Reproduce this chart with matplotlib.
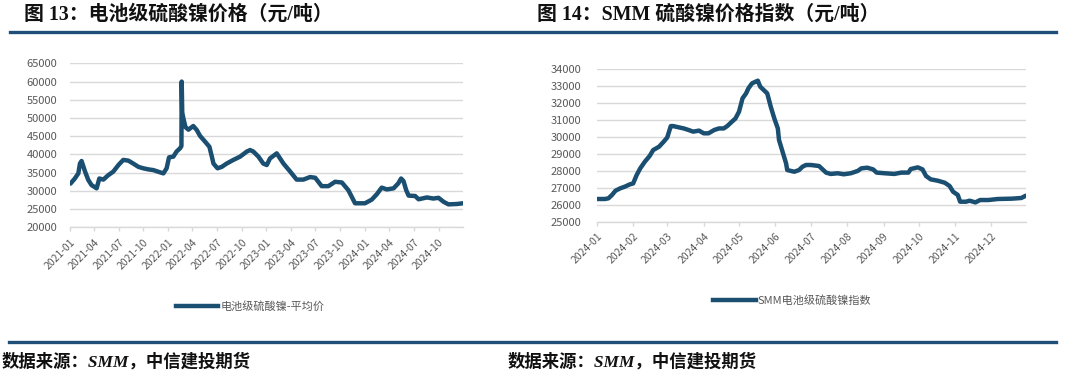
import matplotlib
matplotlib.use('Agg')
import matplotlib.pyplot as plt
import matplotlib.dates as mdates
import pandas as pd
from matplotlib.lines import Line2D

plt.rcParams['font.family'] = ['Noto Sans CJK SC', 'DejaVu Sans']

NAVY = '#1b4f72'
RULE = '#1f4e79'
GRID = '#d9d9d9'
LABEL = '#595959'

# 图13: 电池级硫酸镍-平均价 (元/吨)
left_dates = [
    '2021-01-03', '2021-01-19', '2021-02-01', '2021-02-07', '2021-02-13', '2021-02-26',
    '2021-03-10', '2021-03-22', '2021-04-10', '2021-04-20', '2021-05-05', '2021-05-23',
    '2021-06-11', '2021-06-30', '2021-07-18', '2021-08-06', '2021-08-24', '2021-09-12',
    '2021-09-30', '2021-10-19', '2021-11-07', '2021-12-01', '2021-12-14', '2021-12-26',
    '2022-01-04', '2022-01-20', '2022-02-01', '2022-02-14', '2022-02-19', '2022-02-20',
    '2022-02-22', '2022-02-26', '2022-03-06', '2022-03-17', '2022-04-04', '2022-04-17',
    '2022-04-29', '2022-05-18', '2022-06-03', '2022-06-12', '2022-06-18', '2022-07-03',
    '2022-07-19', '2022-08-06', '2022-08-31', '2022-09-25', '2022-10-20', '2022-11-01',
    '2022-11-13', '2022-12-02', '2022-12-20', '2023-01-02', '2023-01-14', '2023-02-08',
    '2023-03-05', '2023-03-30', '2023-04-23', '2023-05-18', '2023-06-12', '2023-07-01',
    '2023-07-25', '2023-08-19', '2023-09-13', '2023-10-08', '2023-11-01', '2023-11-26',
    '2024-01-02', '2024-01-27', '2024-02-15', '2024-03-04', '2024-03-23', '2024-04-17',
    '2024-05-05', '2024-05-15', '2024-05-24', '2024-06-03', '2024-06-12', '2024-07-06',
    '2024-07-19', '2024-08-19', '2024-09-12', '2024-10-01', '2024-10-20', '2024-11-07',
    '2024-12-08', '2024-12-31',
]
left_values = [
    32000, 33400, 34800, 37500, 38200, 35300,
    33000, 31600, 30700, 33400, 33100, 34300,
    35300, 37100, 38500, 38300, 37500, 36600,
    36200, 35900, 35700, 35100, 34800, 36200,
    39200, 39400, 40800, 41700, 42300, 60000,
    51500, 50000, 47500, 46800, 47800, 46700,
    45100, 43500, 42100, 39400, 37500, 36200,
    36600, 37500, 38500, 39400, 40800, 41200,
    40800, 39400, 37500, 37100, 38900, 40300,
    37500, 35300, 33100, 33100, 33800, 33600,
    31300, 31300, 32500, 32300, 30200, 26600,
    26600, 27600, 29100, 30900, 30400, 30700,
    32100, 33400, 32700, 30200, 28700, 28600,
    27700, 28200, 27900, 28100, 27000, 26300,
    26400, 26600,
]

# 图14: SMM电池级硫酸镍指数 (元/吨), 2024
right_dates = [
    '2024-01-01', '2024-01-08', '2024-01-11', '2024-01-14', '2024-01-17', '2024-01-21',
    '2024-01-25', '2024-01-29', '2024-02-01', '2024-02-04', '2024-02-07', '2024-02-11',
    '2024-02-15', '2024-02-18', '2024-02-23', '2024-02-27', '2024-03-01', '2024-03-04',
    '2024-03-06', '2024-03-11', '2024-03-15', '2024-03-19', '2024-03-23', '2024-03-28',
    '2024-04-01', '2024-04-05', '2024-04-10', '2024-04-14', '2024-04-18', '2024-04-21',
    '2024-04-25', '2024-04-28', '2024-05-01', '2024-05-04', '2024-05-07', '2024-05-09',
    '2024-05-12', '2024-05-15', '2024-05-17', '2024-05-19', '2024-05-22', '2024-05-25',
    '2024-05-28', '2024-05-31', '2024-06-03', '2024-06-04', '2024-06-07', '2024-06-10',
    '2024-06-11', '2024-06-17', '2024-06-21', '2024-06-24', '2024-06-27', '2024-07-01',
    '2024-07-08', '2024-07-14', '2024-07-18', '2024-07-24', '2024-07-29', '2024-08-04',
    '2024-08-10', '2024-08-13', '2024-08-18', '2024-08-23', '2024-08-26', '2024-09-02',
    '2024-09-10', '2024-09-16', '2024-09-22', '2024-09-24', '2024-09-30', '2024-10-04',
    '2024-10-07', '2024-10-11', '2024-10-17', '2024-10-23', '2024-10-27', '2024-10-30',
    '2024-11-03', '2024-11-05', '2024-11-10', '2024-11-13', '2024-11-18', '2024-11-22',
    '2024-11-29', '2024-12-07', '2024-12-19', '2024-12-27', '2024-12-31',
]
right_values = [
    26340, 26340, 26380, 26580, 26830, 26970,
    27070, 27200, 27260, 27760, 28150, 28550,
    28880, 29230, 29430, 29730, 29980, 30650,
    30650, 30570, 30510, 30420, 30320, 30380,
    30220, 30220, 30420, 30510, 30510, 30650,
    30910, 31100, 31500, 32290, 32580, 32880,
    33170, 33270, 33330, 32980, 32780, 32580,
    31790, 31100, 30510, 29830, 29140, 28450,
    28050, 27950, 28050, 28250, 28350, 28350,
    28290, 27900, 27820, 27860, 27800, 27860,
    28000, 28150, 28190, 28090, 27900, 27860,
    27820, 27900, 27900, 28110, 28210, 28090,
    27700, 27500, 27420, 27300, 27110, 26770,
    26580, 26180, 26180, 26240, 26140, 26280,
    26280, 26340, 26360, 26400, 26540,
]

left_yticks = list(range(20000, 65001, 5000))
right_yticks = list(range(25000, 34001, 1000))


def style_axis(ax, yticks, xlim, locator, ypad):
    ax.set_ylim(yticks[0], yticks[-1])
    ax.set_yticks(yticks)
    ax.set_xlim(pd.Timestamp(xlim[0]), pd.Timestamp(xlim[1]))
    ax.grid(axis='y', color=GRID, lw=1.0)
    ax.set_axisbelow(True)
    for s in ('top', 'right', 'left'):
        ax.spines[s].set_visible(False)
    ax.spines['bottom'].set_color(GRID)
    ax.spines['bottom'].set_linewidth(1.0)
    ax.xaxis.set_major_locator(locator)
    ax.xaxis.set_major_formatter(mdates.DateFormatter('%Y-%m'))
    ax.tick_params(axis='y', length=0, labelsize=8, labelcolor=LABEL, pad=ypad)
    ax.tick_params(axis='x', length=3, width=1, color=GRID, labelsize=7.5,
                   labelcolor=LABEL, pad=4, labelrotation=45)
    plt.setp(ax.get_xticklabels(), ha='right', va='top', rotation_mode='anchor')


fig = plt.figure(figsize=(10.8, 3.77), dpi=100)

ax1 = fig.add_axes([0.0648, 0.397, 0.3639, 0.435])
ax1.plot(pd.to_datetime(left_dates), left_values, color=NAVY, lw=3.2,
         solid_joinstyle='round', solid_capstyle='round')
style_axis(ax1, left_yticks, ('2021-01-01', '2024-12-31'),
           mdates.MonthLocator(bymonth=[1, 4, 7, 10]), 9)

ax2 = fig.add_axes([0.5525, 0.412, 0.3975, 0.404])
ax2.plot(pd.to_datetime(right_dates), right_values, color=NAVY, lw=3.2,
         solid_joinstyle='round', solid_capstyle='round')
style_axis(ax2, right_yticks, ('2024-01-01', '2024-12-31'),
           mdates.MonthLocator(), 11)

# legends
h = [Line2D([], [], color=NAVY, lw=3.2)]
fig.legend(h, ['电池级硫酸镍-平均价'], loc='center', bbox_to_anchor=(0.2315, 0.186),
           frameon=False, fontsize=8, labelcolor=LABEL, handlelength=3.8,
           handletextpad=0.2)
fig.legend(h, ['SMM电池级硫酸镍指数'], loc='center', bbox_to_anchor=(0.7338, 0.202),
           frameon=False, fontsize=8, labelcolor=LABEL, handlelength=3.8,
           handletextpad=0.2)

# titles
title_font = dict(family=['Liberation Serif', 'Noto Sans CJK SC'], weight='bold',
                  size=14.3, color='#111111', va='center', ha='left')
fig.text(24 / 1080, 1 - 15 / 377, '图 13：电池级硫酸镍价格（元/吨）', **title_font)
fig.text(537 / 1080, 1 - 15 / 377, '图 14：SMM 硫酸镍价格指数（元/吨）', **title_font)

# rules
fig.add_artist(Line2D([10 / 1080, 1056 / 1080], [1 - 31.5 / 377] * 2,
                      color=RULE, lw=2.4, transform=fig.transFigure))
fig.add_artist(Line2D([9 / 1080, 1056 / 1080], [1 - 341.7 / 377] * 2,
                      color=RULE, lw=2.4, transform=fig.transFigure))

# source notes
foot_font = dict(family=['Liberation Serif', 'Noto Sans CJK SC'], weight='bold',
                 style='italic', size=12.5, color='#111111', va='center', ha='left')
fig.text(2 / 1080, 1 - 362 / 377, '数据来源：SMM，中信建投期货', **foot_font)
fig.text(508 / 1080, 1 - 362 / 377, '数据来源：SMM，中信建投期货', **foot_font)

fig.savefig('out.png', dpi=100, facecolor='white')
